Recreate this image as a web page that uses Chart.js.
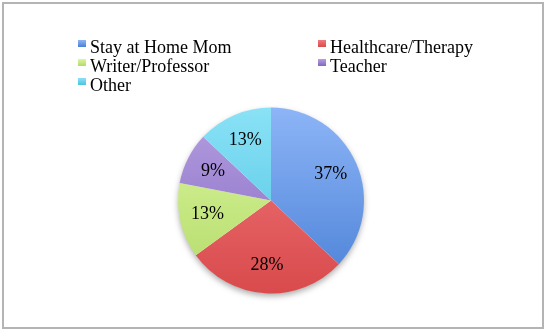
<!DOCTYPE html>
<html>
<head>
<meta charset="utf-8">
<script src="https://cdn.jsdelivr.net/npm/chart.js@4"></script>
<style>
    html, body { margin: 0; padding: 0; background: #fff; }
    #wrap { position: relative; width: 548px; height: 332px; }
    #frame {
        position: absolute; left: 2px; top: 2px; width: 538px; height: 323px;
        border: 2px solid #b4b4b4;
    }
    canvas { position: absolute; left: 0; top: 0; }
</style>
</head>
<body>
<div id="wrap">
    <div id="frame"></div>
    <canvas id="pieChart" width="548" height="332"></canvas>
</div>
<script>
// data
const categories = ['Stay at Home Mom', 'Healthcare/Therapy', 'Writer/Professor', 'Teacher', 'Other'];
const shares = [37, 28, 13, 9, 13];

// slice colours (light at top, dark at bottom)
const lightColors = ['#8db5f7', '#f07a7c', '#dcf7a0', '#b6a0e2', '#8ae2f6'];
const darkColors  = ['#4a80d6', '#d94a4c', '#b2da68', '#8466c0', '#4cc2e2'];

const FONT = '"Liberation Serif", "Times New Roman", serif';

function sliceFill(context) {
    const chart = context.chart;
    const area = chart.chartArea;
    const i = context.dataIndex;
    if (!area) return darkColors[i];
    const g = chart.ctx.createLinearGradient(0, area.top, 0, area.bottom);
    g.addColorStop(0, lightColors[i]);
    g.addColorStop(1, darkColors[i]);
    return g;
}

// soft shadow under the pie, drawn once before slices
const pieShadow = {
    id: 'pieShadow',
    beforeDatasetsDraw(chart) {
        const arc = chart.getDatasetMeta(0).data[0];
        if (!arc) return;
        const ctx = chart.ctx;
        ctx.save();
        ctx.shadowColor = 'rgba(0,0,0,0.35)';
        ctx.shadowBlur = 6;
        ctx.shadowOffsetY = 3;
        ctx.fillStyle = '#ffffff';
        ctx.beginPath();
        ctx.arc(arc.x, arc.y, arc.outerRadius - 0.5, 0, Math.PI * 2);
        ctx.fill();
        ctx.restore();
    }
};

// percentage labels inside slices
const sliceLabels = {
    id: 'sliceLabels',
    afterDatasetsDraw(chart) {
        const ctx = chart.ctx;
        const meta = chart.getDatasetMeta(0);
        const total = shares.reduce((a, b) => a + b, 0);
        ctx.save();
        ctx.font = '18px ' + FONT;
        ctx.fillStyle = '#000';
        ctx.textAlign = 'center';
        ctx.textBaseline = 'middle';
        meta.data.forEach((arc, i) => {
            const mid = (arc.startAngle + arc.endAngle) / 2;
            const r = arc.outerRadius * 0.70;
            const x = arc.x + Math.cos(mid) * r;
            const y = arc.y + Math.sin(mid) * r;
            ctx.fillText(Math.round(shares[i] / total * 100) + '%', x, y);
        });
        ctx.restore();
    }
};

// two-column legend at the top
const topLegend = {
    id: 'topLegend',
    afterDraw(chart) {
        const ctx = chart.ctx;
        const colX = [78, 318];
        const rowY = [53, 72, 91];
        ctx.save();
        ctx.font = '18px ' + FONT;
        ctx.fillStyle = '#000';
        ctx.textBaseline = 'alphabetic';
        categories.forEach((name, i) => {
            const x = colX[i % 2];
            const y = rowY[Math.floor(i / 2)];
            const g = ctx.createLinearGradient(0, y - 13, 0, y - 6);
            g.addColorStop(0, lightColors[i]);
            g.addColorStop(1, darkColors[i]);
            ctx.fillStyle = g;
            ctx.fillRect(x, y - 13, 8, 7);
            ctx.fillStyle = '#000';
            ctx.fillText(name, x + 12, y);
        });
        ctx.restore();
    }
};

new Chart(document.getElementById('pieChart'), {
    type: 'pie',
    data: {
        labels: categories,
        datasets: [{
            data: shares,
            backgroundColor: sliceFill,
            borderWidth: 0
        }]
    },
    options: {
        responsive: false,
        animation: false,
        layout: {
            padding: { left: 178, right: 184, top: 107, bottom: 38 }
        },
        plugins: {
            legend: { display: false },
            tooltip: { enabled: false }
        }
    },
    plugins: [pieShadow, sliceLabels, topLegend]
});
</script>
</body>
</html>
